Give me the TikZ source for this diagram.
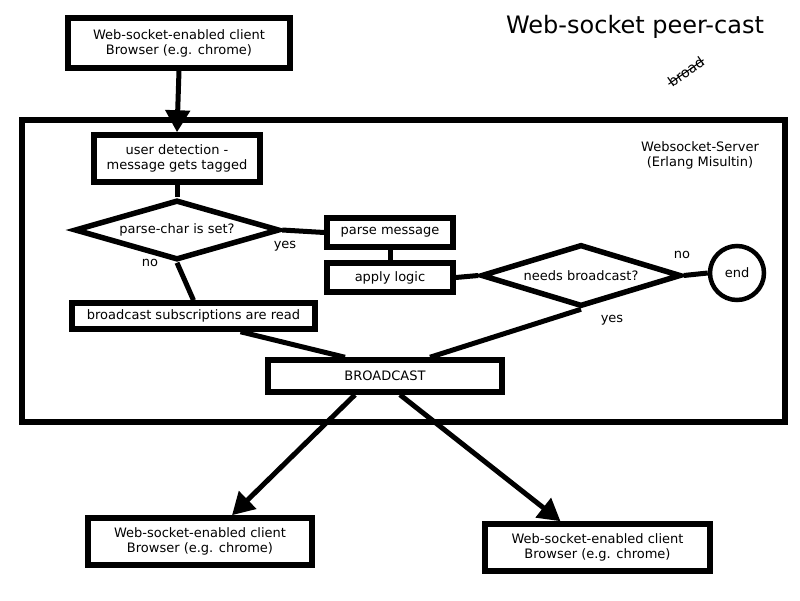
\documentclass[tikz,border=0pt]{standalone}
\usepackage{fontspec}
\setmainfont{DejaVu Sans}
\usetikzlibrary{shapes.geometric,arrows.meta,positioning}

\begin{document}
\begin{tikzpicture}[x=1pt, y=-1pt,
    box/.style={draw, line width=5.5pt, rectangle, inner sep=0pt, align=center, font=\fontsize{13}{15}\selectfont},
    decision/.style={draw, line width=5.5pt, diamond, inner sep=0pt, font=\fontsize{13}{15}\selectfont},
    link/.style={line width=5pt},
    flow/.style={line width=5pt, -{Triangle[length=22pt, width=24pt]}},
    tag/.style={font=\fontsize{13}{15}\selectfont}]
            \useasboundingbox (0,0) rectangle (800,600);
            % Title
            \node (title) at (635,27) {\fontsize{24}{28}\selectfont Web-socket peer-cast};
            \node[rotate=35, inner sep=1pt, font=\fontsize{14}{16}\selectfont] (broad) at (686,72) {broad};
            \draw[line width=1pt] (broad.west) -- (broad.east);
            % Server frame
            \node[draw, line width=5.5pt, minimum width=763pt, minimum height=302pt] (srv) at (403.5,271) {};
            \node[tag, align=center] (srvlabel) at (700,155) {Websocket-Server\\(Erlang Misultin)};
            % Clients
            \node[box, minimum width=222pt, minimum height=50pt] (client) at (179,43) {Web-socket-enabled client\\Browser (e.g. chrome)};
            \node[box, minimum width=224pt, minimum height=47pt] (clientA) at (200,541.5) {Web-socket-enabled client\\Browser (e.g. chrome)};
            \node[box, minimum width=225pt, minimum height=47pt] (clientB) at (597.5,547.5) {Web-socket-enabled client\\Browser (e.g. chrome)};
            % Server steps
            \node[box, minimum width=166pt, minimum height=47pt] (detect) at (177,158.5) {user detection -\\message gets tagged};
            \node[decision, shape aspect=3.4, minimum width=205pt, minimum height=60pt] (parsechar) at (177,230) {parse-char is set?};
            \node[box, minimum width=126pt, minimum height=29pt] (parsemsg) at (390,232.5) {parse message};
            \node[box, minimum width=126pt, minimum height=29pt] (logic) at (390,277.5) {apply logic};
            \node[box, minimum width=243pt, minimum height=26pt] (subs) at (193.5,316) {broadcast subscriptions are read};
            \node[decision, shape aspect=3.2, minimum width=200pt, minimum height=62pt] (needs) at (581,275.5) {needs broadcast?};
            \node[draw, circle, line width=4.5pt, minimum size=54pt, inner sep=0pt, tag] (end) at (737,273) {end};
            \node[box, minimum width=234pt, minimum height=32pt] (bcast) at (385,376) {BROADCAST};
            % Connectors
            \draw[flow] (client.south) -- (detect.north);
            \draw[link] (detect.south) -- (parsechar.north);
            \draw[link] (parsechar.east) -- (parsemsg.west);
            \draw[link] (parsechar.south) -- (subs.north);
            \draw[link] (parsemsg.south) -- (logic.north);
            \draw[link] (logic.east) -- (needs.west);
            \draw[link] (needs.east) -- (end.west);
            \draw[link] (needs.south) -- ([xshift=45pt]bcast.north);
            \draw[link] ([xshift=47pt]subs.south) -- ([xshift=-40pt]bcast.north);
            \draw[flow] ([xshift=-30pt]bcast.south) -- ([xshift=32pt]clientA.north);
            \draw[flow] ([xshift=15pt]bcast.south) -- ([xshift=-37pt]clientB.north);
            % Labels
            \node[tag] (yes1) at (285,246) {yes};
            \node[tag] (no1) at (150,263) {no};
            \node[tag] (no2) at (682,255) {no};
            \node[tag] (yes2) at (612,320) {yes};
\end{tikzpicture}
\end{document}
